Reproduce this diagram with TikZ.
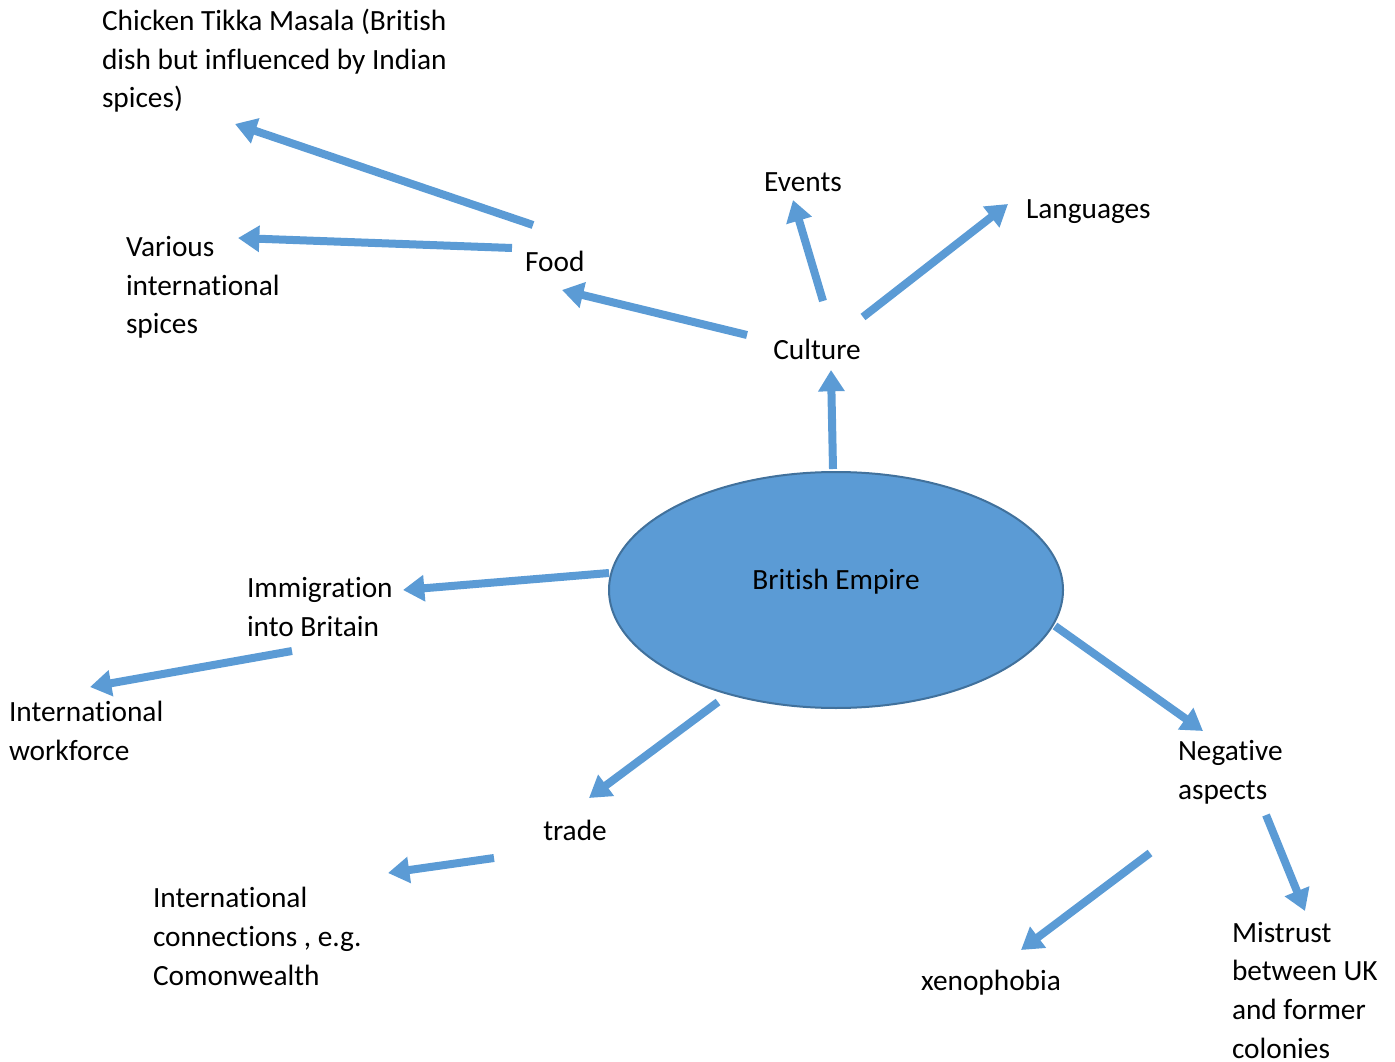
\documentclass[tikz,border=0pt]{standalone}
\usepackage{fontspec}
\setmainfont{Carlito}[Ligatures={NoCommon}]
\usetikzlibrary{arrows.meta,shapes.geometric}
\definecolor{arrowblue}{HTML}{5B9BD5}
\definecolor{ellipseedge}{HTML}{41719C}
\begin{document}
\begin{tikzpicture}[x=0.75pt,y=-0.75pt,
  lbl/.style={inner sep=0pt, outer sep=0pt, font=\fontsize{22pt}{29pt}\selectfont, align=left},
  conn/.style={draw=arrowblue, line width=6pt, -{Triangle[length=16pt,width=19pt]}}]
\useasboundingbox (0,0) rectangle (1395,1062);
% central ellipse
\node[ellipse, draw=ellipseedge, line width=1.5pt, fill=arrowblue, minimum width=340.5pt, minimum height=177pt, inner sep=0pt] (empire) at (836,590) {};
\node[lbl, anchor=base] (empiretxt) at (836,589) {British Empire};
% labels (multi-line nodes: base = baseline of last line)
\node[lbl, anchor=base west] (chicken) at (102,108) {Chicken Tikka Masala (British\\dish but influenced by Indian\\spices)};
\node[lbl, anchor=base] (events) at (803,192) {Events};
\node[lbl, anchor=base west] (languages) at (1026,219) {Languages};
\node[lbl, anchor=base west] (various) at (126,334) {Various\\international\\spices};
\node[lbl, anchor=base west] (food) at (525,272) {Food};
\node[lbl, anchor=base] (culture) at (817,359) {Culture};
\node[lbl, anchor=base west] (immig) at (247,636) {Immigration\\into Britain};
\node[lbl, anchor=base west] (workforce) at (9,760) {International\\workforce};
\node[lbl, anchor=base] (trade) at (575,840) {trade};
\node[lbl, anchor=base west] (connections) at (153,985) {International\\connections , e.g.\\Comonwealth};
\node[lbl, anchor=base west] (negative) at (1178,799) {Negative\\aspects};
\node[lbl, anchor=base] (xeno) at (991,990) {xenophobia};
\node[lbl, anchor=base west, text depth=0pt] (mistrust) at (1232,1058) {Mistrust\\between UK\\and former\\colonies};
% connector end points
\coordinate (e2c-s) at (833,469); \coordinate (e2c-e) at (831,370);
\coordinate (c2f-s) at (747,335); \coordinate (c2f-e) at (562,290);
\coordinate (c2ev-s) at (823,301); \coordinate (c2ev-e) at (793,200);
\coordinate (c2l-s) at (863,317); \coordinate (c2l-e) at (1008,204);
\coordinate (f2ch-s) at (533,225); \coordinate (f2ch-e) at (235,124);
\coordinate (f2v-s) at (512,248); \coordinate (f2v-e) at (238,238);
\coordinate (e2i-s) at (609,573); \coordinate (e2i-e) at (403,590);
\coordinate (i2w-s) at (292,651); \coordinate (i2w-e) at (90,687);
\coordinate (e2t-s) at (718,702); \coordinate (e2t-e) at (589,798);
\coordinate (t2c-s) at (494,858); \coordinate (t2c-e) at (388,873);
\coordinate (e2n-s) at (1055,626); \coordinate (e2n-e) at (1203,731);
\coordinate (n2x-s) at (1150,853); \coordinate (n2x-e) at (1021,950);
\coordinate (n2m-s) at (1266,815); \coordinate (n2m-e) at (1305,911);
% connectors
\draw[conn] (e2c-s) -- (e2c-e);
\draw[conn] (c2f-s) -- (c2f-e);
\draw[conn] (c2ev-s) -- (c2ev-e);
\draw[conn] (c2l-s) -- (c2l-e);
\draw[conn] (f2ch-s) -- (f2ch-e);
\draw[conn] (f2v-s) -- (f2v-e);
\draw[conn] (e2i-s) -- (e2i-e);
\draw[conn] (i2w-s) -- (i2w-e);
\draw[conn] (e2t-s) -- (e2t-e);
\draw[conn] (t2c-s) -- (t2c-e);
\draw[conn] (e2n-s) -- (e2n-e);
\draw[conn] (n2x-s) -- (n2x-e);
\draw[conn] (n2m-s) -- (n2m-e);
\end{tikzpicture}
\end{document}
